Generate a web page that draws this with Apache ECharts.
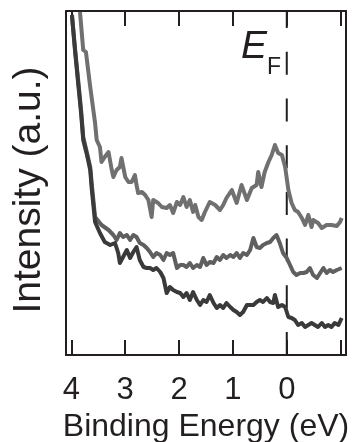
<!DOCTYPE html>
<html>
<head>
<meta charset="utf-8">
<style>
  html, body { margin: 0; padding: 0; background: #fff; }
  #chart { width: 363px; height: 442px; }
</style>
<script src="https://cdn.jsdelivr.net/npm/echarts@6/dist/echarts.min.js"></script>
</head>
<body>
<div id="chart"></div>
<script>
// binding energy (eV) and intensity (a.u.)
var topEnergy = [3.84, 3.78, 3.73, 3.65, 3.56, 3.53, 3.47, 3.44, 3.38, 3.31, 3.25, 3.22, 3.16, 3.10, 3.07, 3.00, 2.94, 2.88, 2.82, 2.79, 2.76, 2.69, 2.63, 2.57, 2.51, 2.48, 2.39, 2.32, 2.23, 2.17, 2.11, 2.04, 1.98, 1.92, 1.86, 1.80, 1.74, 1.70, 1.64, 1.58, 1.52, 1.43, 1.33, 1.24, 1.18, 1.12, 1.02, 0.93, 0.84, 0.74, 0.65, 0.56, 0.53, 0.47, 0.41, 0.34, 0.28, 0.22, 0.16, 0.09, 0.03, -0.03, -0.09, -0.15, -0.21, -0.28, -0.34, -0.40, -0.46, -0.49, -0.58, -0.65, -0.74, -0.83, -0.93, -0.99, -1.02];
var topIntensity = [343, 305, 303, 268, 232, 215, 208, 193, 198, 203, 185, 178, 185, 188, 197, 178, 173, 173, 180, 170, 162, 163, 160, 155, 138, 155, 152, 148, 147, 150, 142, 153, 150, 158, 148, 155, 143, 150, 138, 135, 143, 153, 150, 145, 150, 157, 165, 152, 170, 155, 167, 170, 183, 168, 183, 193, 200, 210, 202, 200, 188, 165, 152, 145, 143, 137, 130, 140, 128, 135, 132, 127, 130, 130, 129, 133, 137];

var midEnergy = [3.99, 3.93, 3.88, 3.82, 3.78, 3.71, 3.65, 3.62, 3.56, 3.44, 3.31, 3.22, 3.16, 3.10, 3.04, 2.97, 2.91, 2.85, 2.79, 2.73, 2.66, 2.60, 2.54, 2.48, 2.42, 2.35, 2.29, 2.23, 2.17, 2.11, 2.04, 1.98, 1.92, 1.86, 1.80, 1.74, 1.67, 1.61, 1.55, 1.49, 1.43, 1.36, 1.30, 1.24, 1.18, 1.12, 1.05, 0.99, 0.93, 0.87, 0.81, 0.74, 0.68, 0.62, 0.56, 0.50, 0.44, 0.37, 0.31, 0.25, 0.19, 0.13, 0.07, 0.00, -0.06, -0.12, -0.18, -0.25, -0.31, -0.37, -0.43, -0.49, -0.56, -0.62, -0.68, -0.74, -0.80, -0.86, -0.93, -1.02];
var midIntensity = [340, 305, 278, 245, 218, 202, 188, 170, 138, 130, 125, 120, 115, 122, 118, 120, 115, 120, 118, 112, 110, 107, 103, 98, 102, 100, 95, 102, 100, 102, 87, 90, 90, 88, 92, 87, 90, 88, 97, 90, 93, 92, 98, 95, 100, 97, 100, 98, 102, 97, 102, 100, 105, 117, 108, 107, 110, 112, 113, 117, 120, 112, 102, 97, 90, 83, 80, 82, 82, 83, 87, 80, 77, 82, 87, 82, 85, 83, 85, 87];

var lowEnergy = [3.99, 3.93, 3.88, 3.82, 3.78, 3.71, 3.65, 3.62, 3.56, 3.47, 3.38, 3.28, 3.19, 3.13, 3.10, 3.04, 2.97, 2.91, 2.85, 2.79, 2.73, 2.66, 2.60, 2.54, 2.48, 2.42, 2.35, 2.29, 2.23, 2.17, 2.11, 2.04, 1.98, 1.92, 1.86, 1.80, 1.74, 1.67, 1.61, 1.55, 1.49, 1.43, 1.36, 1.30, 1.24, 1.18, 1.12, 1.05, 0.99, 0.93, 0.87, 0.81, 0.74, 0.68, 0.62, 0.56, 0.50, 0.44, 0.37, 0.31, 0.25, 0.22, 0.16, 0.09, 0.03, 0.00, -0.03, -0.09, -0.15, -0.21, -0.28, -0.34, -0.40, -0.46, -0.52, -0.58, -0.65, -0.71, -0.77, -0.83, -0.89, -0.96, -1.02];
var lowIntensity = [340, 303, 275, 242, 215, 200, 185, 165, 133, 122, 113, 110, 112, 102, 92, 98, 105, 97, 103, 108, 95, 88, 87, 87, 85, 87, 83, 77, 62, 68, 65, 63, 62, 58, 62, 55, 63, 55, 50, 55, 53, 60, 52, 47, 50, 47, 52, 48, 45, 43, 40, 43, 50, 50, 50, 53, 55, 53, 57, 53, 52, 60, 48, 50, 48, 50, 38, 37, 35, 30, 32, 28, 30, 32, 30, 28, 32, 28, 30, 28, 32, 30, 37];

// Fermi level marker and axis ticks
var fermiEnergy = 0;
var tickValues = [4, 3, 2, 1, 0, -1];
var labelValues = [4, 3, 2, 1, 0];

function pairs(xs, ys) {
  return xs.map(function (x, i) { return [x, ys[i]]; });
}

var font = 'Liberation Sans, Arial, Helvetica, sans-serif';
var ink = '#231f20';

var chart = echarts.init(document.getElementById('chart'));

function xAxisOf(pos, withLabels) {
  return {
    type: 'value',
    position: pos,
    inverse: true,
    min: -1.1,
    max: 4.1,
    axisLine: { show: true, onZero: false, lineStyle: { color: ink, width: 2 } },
    axisTick: { show: true, inside: true, length: 15, customValues: tickValues, lineStyle: { color: ink, width: 2 } },
    axisLabel: {
      show: withLabels,
      customValues: labelValues,
      margin: 20,
      fontSize: 31,
      fontFamily: font,
      color: ink
    },
    splitLine: { show: false },
    name: withLabels ? 'Binding Energy (eV)' : '',
    nameLocation: 'middle',
    nameGap: 55,
    nameTextStyle: { fontSize: 32, fontFamily: font, color: ink }
  };
}

function yAxisOf(pos, withName) {
  return {
    type: 'value',
    position: pos,
    min: 0,
    max: 344,
    axisLine: { show: true, onZero: false, lineStyle: { color: ink, width: 2 } },
    axisTick: { show: false },
    axisLabel: { show: false },
    splitLine: { show: false },
    name: withName ? 'Intensity (a.u.)' : '',
    nameLocation: 'middle',
    nameRotate: 90,
    nameGap: 17,
    nameTextStyle: { fontSize: 39, fontFamily: font, color: ink, padding: [0, 14, 0, 0] }
  };
}

function series(name, data, color) {
  return {
    name: name,
    type: 'line',
    data: data,
    showSymbol: false,
    symbol: 'none',
    lineStyle: { color: color, width: 4, join: 'round' },
    animation: false
  };
}

chart.setOption({
  animation: false,
  grid: { left: 66, right: 17, top: 11, bottom: 87, outerBoundsMode: 'none' },
  xAxis: [xAxisOf('bottom', true), xAxisOf('top', false)],
  yAxis: [yAxisOf('left', true), yAxisOf('right', false)],
  graphic: [
    { type: 'text', left: 241, top: 28, style: { text: 'E', font: 'italic 39px ' + font, fill: ink } },
    { type: 'text', left: 267, top: 56, style: { text: 'F', font: '23px ' + font, fill: ink } }
  ],
  series: [
    {
      name: 'EF',
      type: 'line',
      data: [[fermiEnergy, 0], [fermiEnergy, 344]],
      showSymbol: false,
      symbol: 'none',
      lineStyle: { color: ink, width: 2, type: [23, 23.7] },
      animation: false
    },
    series('top', pairs(topEnergy, topIntensity), '#707070'),
    series('mid', pairs(midEnergy, midIntensity), '#5f5f5f'),
    series('low', pairs(lowEnergy, lowIntensity), '#3a3a3a')
  ]
});
</script>
</body>
</html>
